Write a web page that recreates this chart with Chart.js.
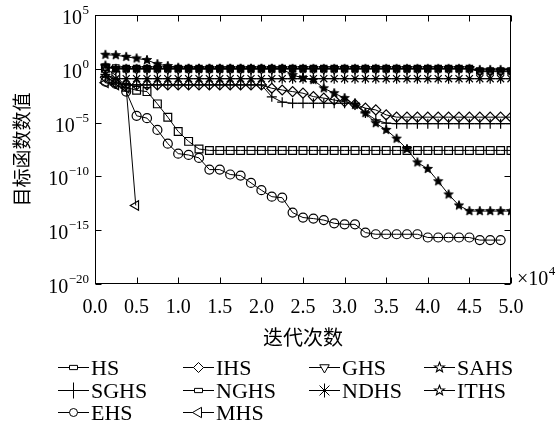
<!DOCTYPE html>
<html><head><meta charset="utf-8">
<style>html,body{margin:0;padding:0;background:#fff;}canvas{display:block;}</style>
</head><body>
<canvas id="c" width="557" height="430"></canvas>
<script src="https://cdn.jsdelivr.net/npm/chart.js"></script>
<script>
// ---- data (x in units of 10^4 iterations) ----
const iters = [0.125,0.25,0.375,0.5,0.625,0.75,0.875,1.0,1.125,1.25,1.375,1.5,1.625,1.75,1.875,2.0,2.125,2.25,2.375,2.5,2.625,2.75,2.875,3.0,3.125,3.25,3.375,3.5,3.625,3.75,3.875,4.0,4.125,4.25,4.375,4.5,4.625,4.75,4.875,5.0];
const mhsIters = [0.125,0.25,0.375,0.49];
const HS   = [1.4,1.2,1.05,1.05,1.05,1.05,1.05,1.05,1.05,1.05,1.05,1.05,1.05,1.05,1.05,1.05,1.05,1.05,1.05,1.05,1.05,1.05,1.05,1.05,1.05,1.05,1.05,1.05,1.05,1.05,1.05,1.05,1.05,1.05,1.05,1.05,0.63,0.63,0.63,0.63];
const IHS  = [0.16,0.05,0.032,0.032,0.032,0.032,0.032,0.032,0.032,0.032,0.032,0.032,0.032,0.032,0.032,0.032,0.0155,0.0107,7.6e-3,5.4e-3,2.6e-3,1.9e-3,1.26e-3,8.9e-4,5.0e-4,2.2e-4,1.5e-4,5.2e-5,3.2e-5,3.2e-5,3.2e-5,3.2e-5,3.2e-5,3.2e-5,3.2e-5,3.2e-5,3.2e-5,3.2e-5,3.2e-5,3.2e-5];
const GHS  = [1.3,1.0,0.95,0.95,0.95,0.95,0.95,0.95,0.95,0.95,0.95,0.95,0.95,0.95,0.95,0.95,0.95,0.95,0.95,0.95,0.95,0.95,0.95,0.95,0.95,0.95,0.95,0.95,0.95,0.95,0.95,0.95,0.95,0.95,0.95,0.95,0.54,0.54,0.54,0.54];
const SAHS = [20,18.6,13,9.3,6.5,2.75,1.8,1.26,1.0,1.0,1.0,1.0,1.0,1.0,1.0,1.0,1.0,1.0,1.0,1.0,1.0,1.0,1.0,1.0,1.0,1.0,1.0,1.0,1.0,1.0,1.0,1.0,1.0,1.0,1.0,1.0,0.8,0.8,0.8,0.8];
const SGHS = [0.2,0.05,0.032,0.032,0.032,0.032,0.032,0.032,0.032,0.032,0.032,0.032,0.032,0.032,0.032,0.032,2.5e-3,7.9e-4,6.3e-4,6.3e-4,6.3e-4,6.3e-4,6.3e-4,6.3e-4,6.3e-4,7.9e-5,1.8e-5,8.9e-6,7.9e-6,7.9e-6,7.9e-6,7.9e-6,7.9e-6,7.9e-6,7.9e-6,7.9e-6,7.9e-6,7.9e-6,7.9e-6,7.9e-6];
const NGHS = [1.1,0.25,0.019,0.01,7.6e-3,5.5e-4,3.2e-5,1.5e-6,1.8e-7,3.5e-8,2.6e-8,2.6e-8,2.6e-8,2.6e-8,2.6e-8,2.6e-8,2.6e-8,2.6e-8,2.6e-8,2.6e-8,2.6e-8,2.6e-8,2.6e-8,2.6e-8,2.6e-8,2.6e-8,2.6e-8,2.6e-8,2.6e-8,2.6e-8,2.6e-8,2.6e-8,2.6e-8,2.6e-8,2.6e-8,2.6e-8,2.6e-8,2.6e-8,2.6e-8,2.6e-8];
const NDHS = [0.3,0.12,0.12,0.12,0.12,0.12,0.12,0.12,0.12,0.12,0.12,0.12,0.12,0.12,0.12,0.12,0.12,0.12,0.12,0.12,0.12,0.12,0.12,0.12,0.12,0.12,0.12,0.12,0.12,0.12,0.12,0.12,0.12,0.12,0.12,0.12,0.12,0.12,0.12,0.12];
const ITHS = [2.0,1.0,1.0,1.0,1.0,1.0,1.0,1.0,1.0,1.0,1.0,1.0,1.0,1.0,1.0,1.0,1.0,1.0,0.26,0.14,0.091,0.0155,5.4e-3,1.9e-3,4.5e-4,7.6e-5,8.9e-6,2.1e-6,3.2e-7,3.5e-8,2.0e-9,5.0e-10,3.5e-11,2.1e-12,2.0e-13,6.0e-14,6.0e-14,6.0e-14,6.0e-14,6.0e-14];
const EHS  = [0.063,0.039,7.6e-3,4.3e-5,2.6e-5,2.1e-6,1.1e-7,1.3e-8,9.8e-9,5.2e-9,4.3e-10,4.3e-10,1.5e-10,1.2e-10,2.5e-11,5.2e-12,1.3e-12,1.05e-12,4.3e-14,1.5e-14,1.2e-14,8.7e-15,4.4e-15,3.5e-15,3.5e-15,6.0e-16,4.2e-16,4.2e-16,4.2e-16,4.2e-16,4.2e-16,2.1e-16,2.1e-16,2.1e-16,2.1e-16,2.1e-16,1.2e-16,1.2e-16,1.2e-16];
const MHS  = [0.051,0.032,0.016,2.0e-13];

const xTickVals = [0,0.5,1,1.5,2,2.5,3,3.5,4,4.5,5];
const xTickLabels = ['0.0','0.5','1.0','1.5','2.0','2.5','3.0','3.5','4.0','4.5','5.0'];
const yTickVals = [1e-20,1e-15,1e-10,1e-5,1,1e5];
const yTickExps = ['\u221220','\u221215','\u221210','\u22125','0','5'];

// ---- marker helpers ----
function starCanvas(r, fillCol, lw){
  const s = Math.ceil(2*r+4), c = document.createElement('canvas');
  c.width = c.height = s;
  const g = c.getContext('2d');
  g.beginPath();
  for(let i=0;i<10;i++){
    const a = -Math.PI/2 + i*Math.PI/5, rr = (i%2) ? r*0.42 : r;
    g.lineTo(s/2 + rr*Math.cos(a), s/2 + rr*Math.sin(a));
  }
  g.closePath();
  g.fillStyle=fillCol; g.fill();
  g.strokeStyle='#000'; g.lineWidth=lw; g.stroke();
  return c;
}
const starPlot = starCanvas(4.8,'#000',1);
const starLegend = starCanvas(5.2,'#fff',1.1);

function pts(xs, ys){ return ys.map((v,i)=>({x:xs[i], y:v})); }

const base = {borderColor:'#000', borderWidth:1, pointBorderColor:'#000', pointBackgroundColor:'rgba(0,0,0,0)', pointBorderWidth:1.2, tension:0, fill:false};
const datasets = [
  {label:'HS',   data:pts(iters,HS),   pointStyle:'rect',     pointRadius:4.5, lg:{style:'rect', r:3, w:8}},
  {label:'IHS',  data:pts(iters,IHS),  pointStyle:'rectRot',  pointRadius:5,   lg:{style:'rectRot', r:5}},
  {label:'GHS',  data:pts(iters,GHS),  pointStyle:'triangle', pointRadius:5, pointRotation:180, lg:{style:'triangle', r:5.5, rot:180}},
  {label:'SAHS', data:pts(iters,SAHS), pointStyle:starPlot,   pointRadius:5,   lg:{style:starLegend}},
  {label:'SGHS', data:pts(iters,SGHS), pointStyle:'cross',    pointRadius:5,   lg:{style:'cross', r:8}},
  {label:'NGHS', data:pts(iters,NGHS), pointStyle:'rect',     pointRadius:5.5, lg:{style:'rect', r:3, w:8}},
  {label:'NDHS', data:pts(iters,NDHS), pointStyle:'star',     pointRadius:5,   lg:{style:'star', r:7}},
  {label:'ITHS', data:pts(iters,ITHS), pointStyle:starPlot,   pointRadius:5,   lg:{style:starLegend}},
  {label:'EHS',  data:pts(iters,EHS),  pointStyle:'circle',   pointRadius:4.5, lg:{style:'circle', r:4}},
  {label:'MHS',  data:pts(mhsIters,MHS), pointStyle:'triangle', pointRadius:5.5, pointRotation:270, lg:{style:'triangle', r:6, rot:270}}
].map(d=>Object.assign({}, base, d));

const serif = 'Liberation Serif, Times New Roman, serif';
const cjk = 'Noto Sans CJK SC, sans-serif';

const framePlugin = {
  id:'frame',
  afterDatasetsDraw(chart){
    const {ctx, chartArea:a, scales:{x,y}} = chart;
    ctx.save();
    ctx.strokeStyle='#000'; ctx.lineWidth=1;
    const L=Math.round(a.left)+0.5, R=Math.round(a.right)-0.5, T=Math.round(a.top)+0.5, B=Math.round(a.bottom)-0.5;
    ctx.strokeRect(L,T,R-L,B-T);
    ctx.beginPath();
    xTickVals.forEach(v=>{ const p=Math.round(x.getPixelForValue(v))+0.5; ctx.moveTo(p,B); ctx.lineTo(p,B-6); ctx.moveTo(p,T); ctx.lineTo(p,T+6); });
    yTickVals.forEach(v=>{ const p=Math.round(y.getPixelForValue(v))+0.5; ctx.moveTo(L,p); ctx.lineTo(L+6,p); ctx.moveTo(R,p); ctx.lineTo(R-6,p); });
    ctx.stroke();
    ctx.fillStyle='#000'; ctx.textBaseline='alphabetic';
    // y tick labels: 10 with superscript exponent
    yTickVals.forEach((v,i)=>{
      const p=y.getPixelForValue(v);
      ctx.font='13px '+serif; ctx.textAlign='right';
      const ew=ctx.measureText(yTickExps[i]).width;
      ctx.fillText(yTickExps[i], 89, p-1);
      ctx.font='20px '+serif;
      ctx.fillText('10', 89-ew-0.5, p+9);
    });
    // x10^4 multiplier
    ctx.textAlign='left';
    ctx.font='20px '+serif; ctx.fillText('\u00D710', 517, 285);
    const w = ctx.measureText('\u00D710').width;
    ctx.font='13px '+serif; ctx.fillText('4', 517+w+0.5, 275);
    ctx.restore();
  },
  afterDraw(chart){
    const ctx = chart.ctx, H = Chart.helpers;
    const cols=[58,183,309,424], rows=[367,390,412];
    ctx.save();
    ctx.font='22px '+serif; ctx.textAlign='left'; ctx.textBaseline='alphabetic';
    chart.data.datasets.forEach((ds,i)=>{
      const x0=cols[i%4], y=rows[Math.floor(i/4)]+0.5;
      ctx.strokeStyle='#000'; ctx.lineWidth=1;
      ctx.beginPath(); ctx.moveTo(x0,y); ctx.lineTo(x0+31,y); ctx.stroke();
      const lg=ds.lg;
      ctx.fillStyle='#fff'; ctx.strokeStyle='#000'; ctx.lineWidth=1;
      if (H && H.drawPointLegend) {
        H.drawPointLegend(ctx, {pointStyle:lg.style, radius:lg.r||5, rotation:lg.rot||0, borderWidth:1}, x0+15.5, y, lg.w);
      }
      ctx.fillStyle='#000';
      ctx.fillText(ds.label, x0+33, y+7.5);
    });
    ctx.restore();
  }
};

Chart.defaults.font.family = serif;
Chart.defaults.color = '#000';

new Chart(document.getElementById('c'), {
  type:'line',
  data:{datasets},
  options:{
    responsive:false, devicePixelRatio:1, animation:false,
    layout:{padding:{left:0,right:46,top:15,bottom:75}},
    plugins:{legend:{display:false}, tooltip:{enabled:false}},
    scales:{
      x:{type:'linear', min:0, max:5,
        afterBuildTicks:s=>{ s.ticks = xTickVals.map(v=>({value:v})); },
        afterFit:s=>{ s.height = 71; },
        ticks:{callback:(v,i)=>xTickLabels[i], font:{family:serif,size:20}, color:'#000', padding:4, maxRotation:0, autoSkip:false},
        grid:{display:false}, border:{display:false},
        title:{display:true, text:'迭代次数', font:{family:cjk,size:20}, color:'#000', padding:{top:0,bottom:6}}
      },
      y:{type:'logarithmic', min:1e-20, max:1e5,
        afterBuildTicks:s=>{ s.ticks = yTickVals.map(v=>({value:v})); },
        afterFit:s=>{ s.width = 95; },
        ticks:{display:false},
        grid:{display:false}, border:{display:false},
        title:{display:true, text:'目标函数数值', font:{family:cjk,size:19}, color:'#000', padding:{top:10,bottom:0}}
      }
    }
  },
  plugins:[framePlugin]
});
</script>
</body></html>
